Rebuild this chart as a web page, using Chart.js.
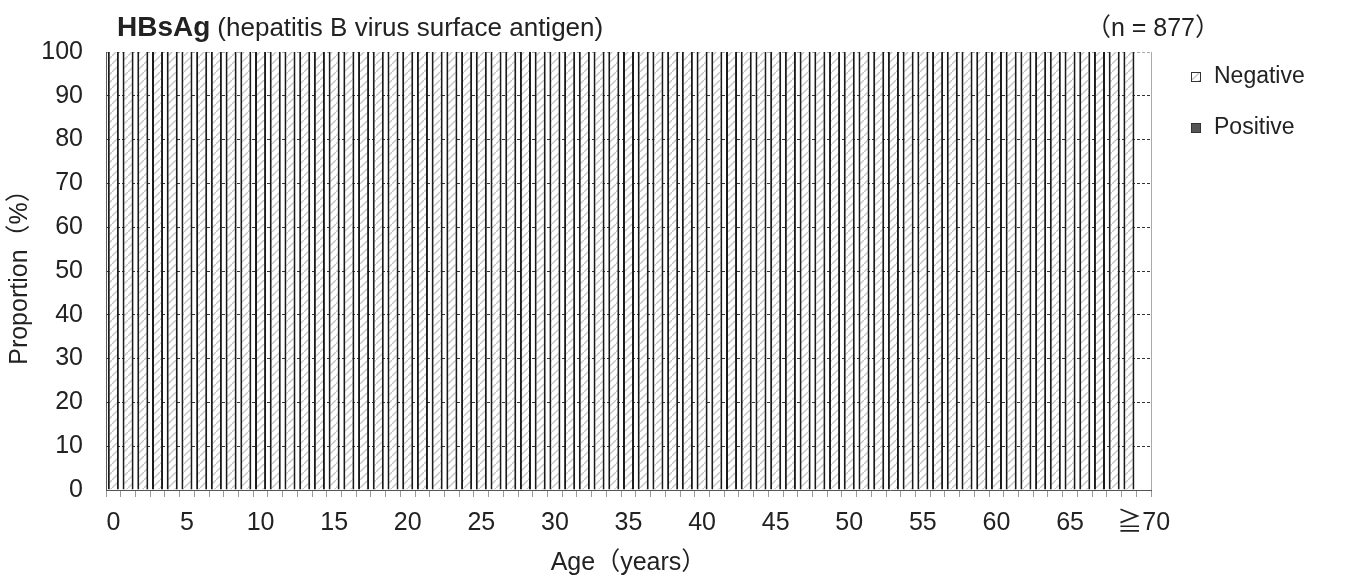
<!DOCTYPE html>
<html>
<head>
<meta charset="utf-8">
<script src="https://cdn.jsdelivr.net/npm/chart.js@4.4.1/dist/chart.umd.min.js"></script>
<style>
  html, body { margin: 0; padding: 0; background: #fff; }
  #wrap { width: 1354px; height: 583px; }
</style>
</head>
<body>
<div id="wrap"><canvas id="chart" width="1354" height="583"></canvas></div>
<script>
// age groups on the x axis (0 .. 69 years, then 70 and over)
const ages = [
  "0", "1", "2", "3", "4", "5", "6", "7", "8", "9",
  "10", "11", "12", "13", "14", "15", "16", "17", "18", "19",
  "20", "21", "22", "23", "24", "25", "26", "27", "28", "29",
  "30", "31", "32", "33", "34", "35", "36", "37", "38", "39",
  "40", "41", "42", "43", "44", "45", "46", "47", "48", "49",
  "50", "51", "52", "53", "54", "55", "56", "57", "58", "59",
  "60", "61", "62", "63", "64", "65", "66", "67", "68", "69",
  "≧70"
];
// only these age labels are written under the axis
const shownAges = ["0", "5", "10", "15", "20", "25", "30", "35", "40", "45", "50", "55", "60", "65", "≧70"];

// proportion (%) per age group; no bar for ≧70
const negative = [
  100, 100, 100, 100, 100, 100, 100, 100, 100, 100,
  100, 100, 100, 100, 100, 100, 100, 100, 100, 100,
  100, 100, 100, 100, 100, 100, 100, 100, 100, 100,
  100, 100, 100, 100, 100, 100, 100, 100, 100, 100,
  100, 100, 100, 100, 100, 100, 100, 100, 100, 100,
  100, 100, 100, 100, 100, 100, 100, 100, 100, 100,
  100, 100, 100, 100, 100, 100, 100, 100, 100, 100,
  null
];
const positive = [
  0, 0, 0, 0, 0, 0, 0, 0, 0, 0,
  0, 0, 0, 0, 0, 0, 0, 0, 0, 0,
  0, 0, 0, 0, 0, 0, 0, 0, 0, 0,
  0, 0, 0, 0, 0, 0, 0, 0, 0, 0,
  0, 0, 0, 0, 0, 0, 0, 0, 0, 0,
  0, 0, 0, 0, 0, 0, 0, 0, 0, 0,
  0, 0, 0, 0, 0, 0, 0, 0, 0, 0,
  null
];
const yTicks = [0, 10, 20, 30, 40, 50, 60, 70, 80, 90, 100];

const FONT = "'Liberation Sans', Arial, 'Noto Sans CJK JP', sans-serif";

// light grey diagonal hatch on white
function makeHatch() {
  const c = document.createElement("canvas");
  c.width = 8;
  c.height = 8;
  const g = c.getContext("2d");
  g.fillStyle = "#fff";
  g.fillRect(0, 0, 8, 8);
  g.strokeStyle = "#c4c4c4";
  g.lineWidth = 1.3;
  g.beginPath();
  g.moveTo(-1, 9);
  g.lineTo(9, -1);
  g.stroke();
  return g.createPattern(c, "repeat");
}
const hatch = makeHatch();

// title, n, legend and plot frame
const extras = {
  id: "extras",
  afterDraw(chart) {
    const ctx = chart.ctx;
    const a = chart.chartArea;
    ctx.save();

    // right frame line
    ctx.strokeStyle = "#aaa";
    ctx.lineWidth = 1;
    ctx.beginPath();
    ctx.moveTo(Math.round(a.right) + 0.5, a.top);
    ctx.lineTo(Math.round(a.right) + 0.5, a.bottom);
    ctx.stroke();

    ctx.fillStyle = "#222";
    ctx.textBaseline = "alphabetic";
    ctx.textAlign = "left";
    ctx.font = "bold 28px " + FONT;
    ctx.fillText("HBsAg", 117, 36);
    const w = ctx.measureText("HBsAg").width;
    ctx.font = "26px " + FONT;
    ctx.fillText("(hepatitis B virus surface antigen)", 117 + w + 7, 36);

    ctx.font = "25px " + FONT;
    ctx.textAlign = "right";
    ctx.fillText("（n = 877）", 1220, 36);

    // legend
    ctx.textAlign = "left";
    ctx.textBaseline = "middle";
    ctx.font = "23px " + FONT;
    const items = [
      { label: chart.data.datasets[0].label, fill: chart.data.datasets[0].backgroundColor, y: 77 },
      { label: chart.data.datasets[1].label, fill: chart.data.datasets[1].backgroundColor, y: 128 }
    ];
    items.forEach((it) => {
      ctx.fillStyle = it.fill;
      ctx.fillRect(1191, it.y - 5, 10, 10);
      ctx.strokeStyle = "#333";
      ctx.lineWidth = 1;
      ctx.strokeRect(1191.5, it.y - 4.5, 9, 9);
      ctx.fillStyle = "#222";
      ctx.fillText(it.label, 1214, it.y);
    });
    ctx.restore();
  }
};

new Chart(document.getElementById("chart"), {
  type: "bar",
  data: {
    labels: ages,
    datasets: [
      {
        label: "Negative",
        data: negative,
        backgroundColor: hatch,
        borderColor: "#1a1a1a",
        borderWidth: { left: 2, right: 2, top: 0, bottom: 0 },
        borderSkipped: false,
        barPercentage: 0.75,
        categoryPercentage: 1.0
      },
      {
        label: "Positive",
        data: positive,
        backgroundColor: "#555",
        borderColor: "#1a1a1a",
        borderWidth: 1,
        barPercentage: 0.75,
        categoryPercentage: 1.0
      }
    ]
  },
  options: {
    responsive: false,
    animation: false,
    layout: { padding: { left: 0, top: 52, right: 203, bottom: 0 } },
    plugins: {
      legend: { display: false },
      tooltip: { enabled: false }
    },
    scales: {
      x: {
        stacked: true,
        afterFit: (s) => { s.height = 93; },
        grid: {
          offset: true,
          drawOnChartArea: false,
          drawTicks: true,
          tickLength: 7,
          tickColor: "#999",
          tickWidth: 1
        },
        border: { display: true, color: "#555", width: 1 },
        ticks: {
          autoSkip: false,
          maxRotation: 0,
          padding: 11,
          color: "#222",
          font: { family: FONT, size: 25 },
          callback: function (v) {
            const l = this.getLabelForValue(v);
            return shownAges.includes(l) ? l : "";
          }
        },
        title: {
          display: true,
          text: "Age（years）",
          color: "#222",
          font: { family: FONT, size: 25 },
          padding: { top: 0, bottom: 5 }
        }
      },
      y: {
        stacked: true,
        min: 0,
        max: 100,
        afterFit: (s) => { s.width = 106; },
        afterBuildTicks: (s) => { s.ticks = yTicks.map((v) => ({ value: v })); },
        grid: {
          drawTicks: false,
          color: (c) => (c.tick && c.tick.value === 100 ? "#aaa" : "#333"),
          lineWidth: 1
        },
        border: { display: true, color: "#555", width: 1, dash: [3, 2] },
        ticks: {
          padding: 23,
          color: "#222",
          font: { family: FONT, size: 25 }
        },
        title: {
          display: true,
          text: "Proportion（%）",
          color: "#222",
          font: { family: FONT, size: 25 },
          padding: { top: 5, bottom: 0 }
        }
      }
    }
  },
  plugins: [extras]
});
</script>
</body>
</html>
